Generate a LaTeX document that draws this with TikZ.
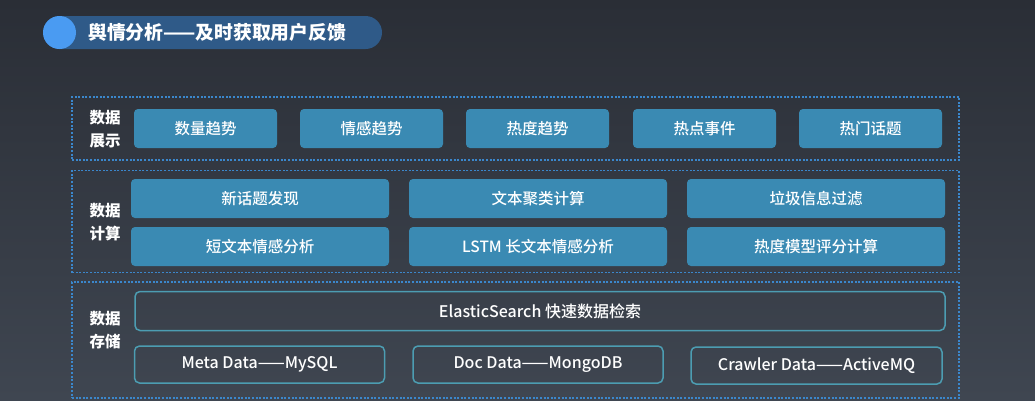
\documentclass[tikz,border=0pt]{standalone}
\usepackage{fontspec}
\setmainfont{Noto Sans CJK SC}
\newfontfamily\medfont{Noto Sans CJK SC Medium}
\usepackage{xcolor}
\usepackage{tikz}
\usetikzlibrary{positioning,calc}

\definecolor{bgtop}{HTML}{2A2E36}
\definecolor{bgbot}{HTML}{3F4651}
\definecolor{pillblue}{HTML}{2F5A88}
\definecolor{dotblue}{HTML}{4A9BF2}
\definecolor{boxblue}{HTML}{3A8AB3}
\definecolor{edgeteal}{HTML}{4C9DB2}
\definecolor{frameblue}{HTML}{3B87CC}

\tikzset{
    layerframe/.style={draw=frameblue, line width=1.2pt, dash pattern=on 2pt off 1.6pt, inner sep=0pt},
    layerlabel/.style={text=white, font=\fontsize{15.5}{23}\selectfont\bfseries, align=center},
    solidbox/.style={fill=boxblue, rounded corners=4pt, inner sep=0pt, text=white, font=\medfont\fontsize{15.5}{18}\selectfont},
    linebox/.style={draw=edgeteal, line width=1.5pt, rounded corners=5pt, inner sep=0pt, text=white, font=\medfont\fontsize{16}{18}\selectfont}
}

\begin{document}
\begin{tikzpicture}[x=1pt,y=-1pt]
    % background
    \shade[top color=bgtop, bottom color=bgbot] (0,0) rectangle (1035,400);
    \useasboundingbox (0,0) rectangle (1035,400);

    % title bar
    \node[fill=pillblue, rounded corners=16.5pt, minimum width=339pt, minimum height=33pt, inner sep=0pt] (pill) at (212.5,32.5) {};
    \node[circle, fill=dotblue, minimum size=33pt, inner sep=0pt] (dot) at (59.5,32.5) {};
    \node[anchor=west, text=white, font=\fontsize{18.8}{20}\selectfont\bfseries, inner sep=0pt] (title) at (88,32.5) {舆情分析——及时获取用户反馈};

    % layer frames
    \node[layerframe, minimum width=887pt, minimum height=63pt] (showframe) at (515.5,128.5) {};
    \node[layerframe, minimum width=887pt, minimum height=102pt] (calcframe) at (515.5,221.5) {};
    \node[layerframe, minimum width=887pt, minimum height=116pt] (storeframe) at (515.5,340) {};

    % layer labels
    \node[layerlabel] (showlabel) at (105,129) {数据\\展示};
    \node[layerlabel] (calclabel) at (105,222) {数据\\计算};
    \node[layerlabel] (storelabel) at (105,330) {数据\\存储};

    % data display
    \node[solidbox, minimum width=143pt, minimum height=39pt] (count) at (205.5,128.5) {数量趋势};
    \node[solidbox, minimum width=143pt, minimum height=39pt] (emotion) at (371.5,128.5) {情感趋势};
    \node[solidbox, minimum width=143pt, minimum height=39pt] (heat) at (537.5,128.5) {热度趋势};
    \node[solidbox, minimum width=143pt, minimum height=39pt] (event) at (704.5,128.5) {热点事件};
    \node[solidbox, minimum width=143pt, minimum height=39pt] (topic) at (870.5,128.5) {热门话题};

    % data computing
    \node[solidbox, minimum width=258pt, minimum height=39pt] (newtopic) at (260,198.5) {新话题发现};
    \node[solidbox, minimum width=258pt, minimum height=39pt] (cluster) at (538,198.5) {文本聚类计算};
    \node[solidbox, minimum width=258pt, minimum height=39pt] (spam) at (816,198.5) {垃圾信息过滤};
    \node[solidbox, minimum width=258pt, minimum height=39pt] (shorttext) at (260,246.5) {短文本情感分析};
    \node[solidbox, minimum width=258pt, minimum height=39pt] (lstm) at (538,246.5) {LSTM 长文本情感分析};
    \node[solidbox, minimum width=258pt, minimum height=39pt] (heatmodel) at (816,246.5) {热度模型评分计算};

    % data storage
    \node[linebox, minimum width=810pt, minimum height=39pt] (search) at (540,311) {ElasticSearch 快速数据检索};
    \node[linebox, minimum width=250pt, minimum height=37pt] (meta) at (259.5,364.5) {Meta Data——MySQL};
    \node[linebox, minimum width=250pt, minimum height=37pt] (doc) at (538,364.5) {Doc Data——MongoDB};
    \node[linebox, minimum width=251pt, minimum height=37pt] (crawler) at (816.5,365.5) {Crawler Data——ActiveMQ};
\end{tikzpicture}
\end{document}
